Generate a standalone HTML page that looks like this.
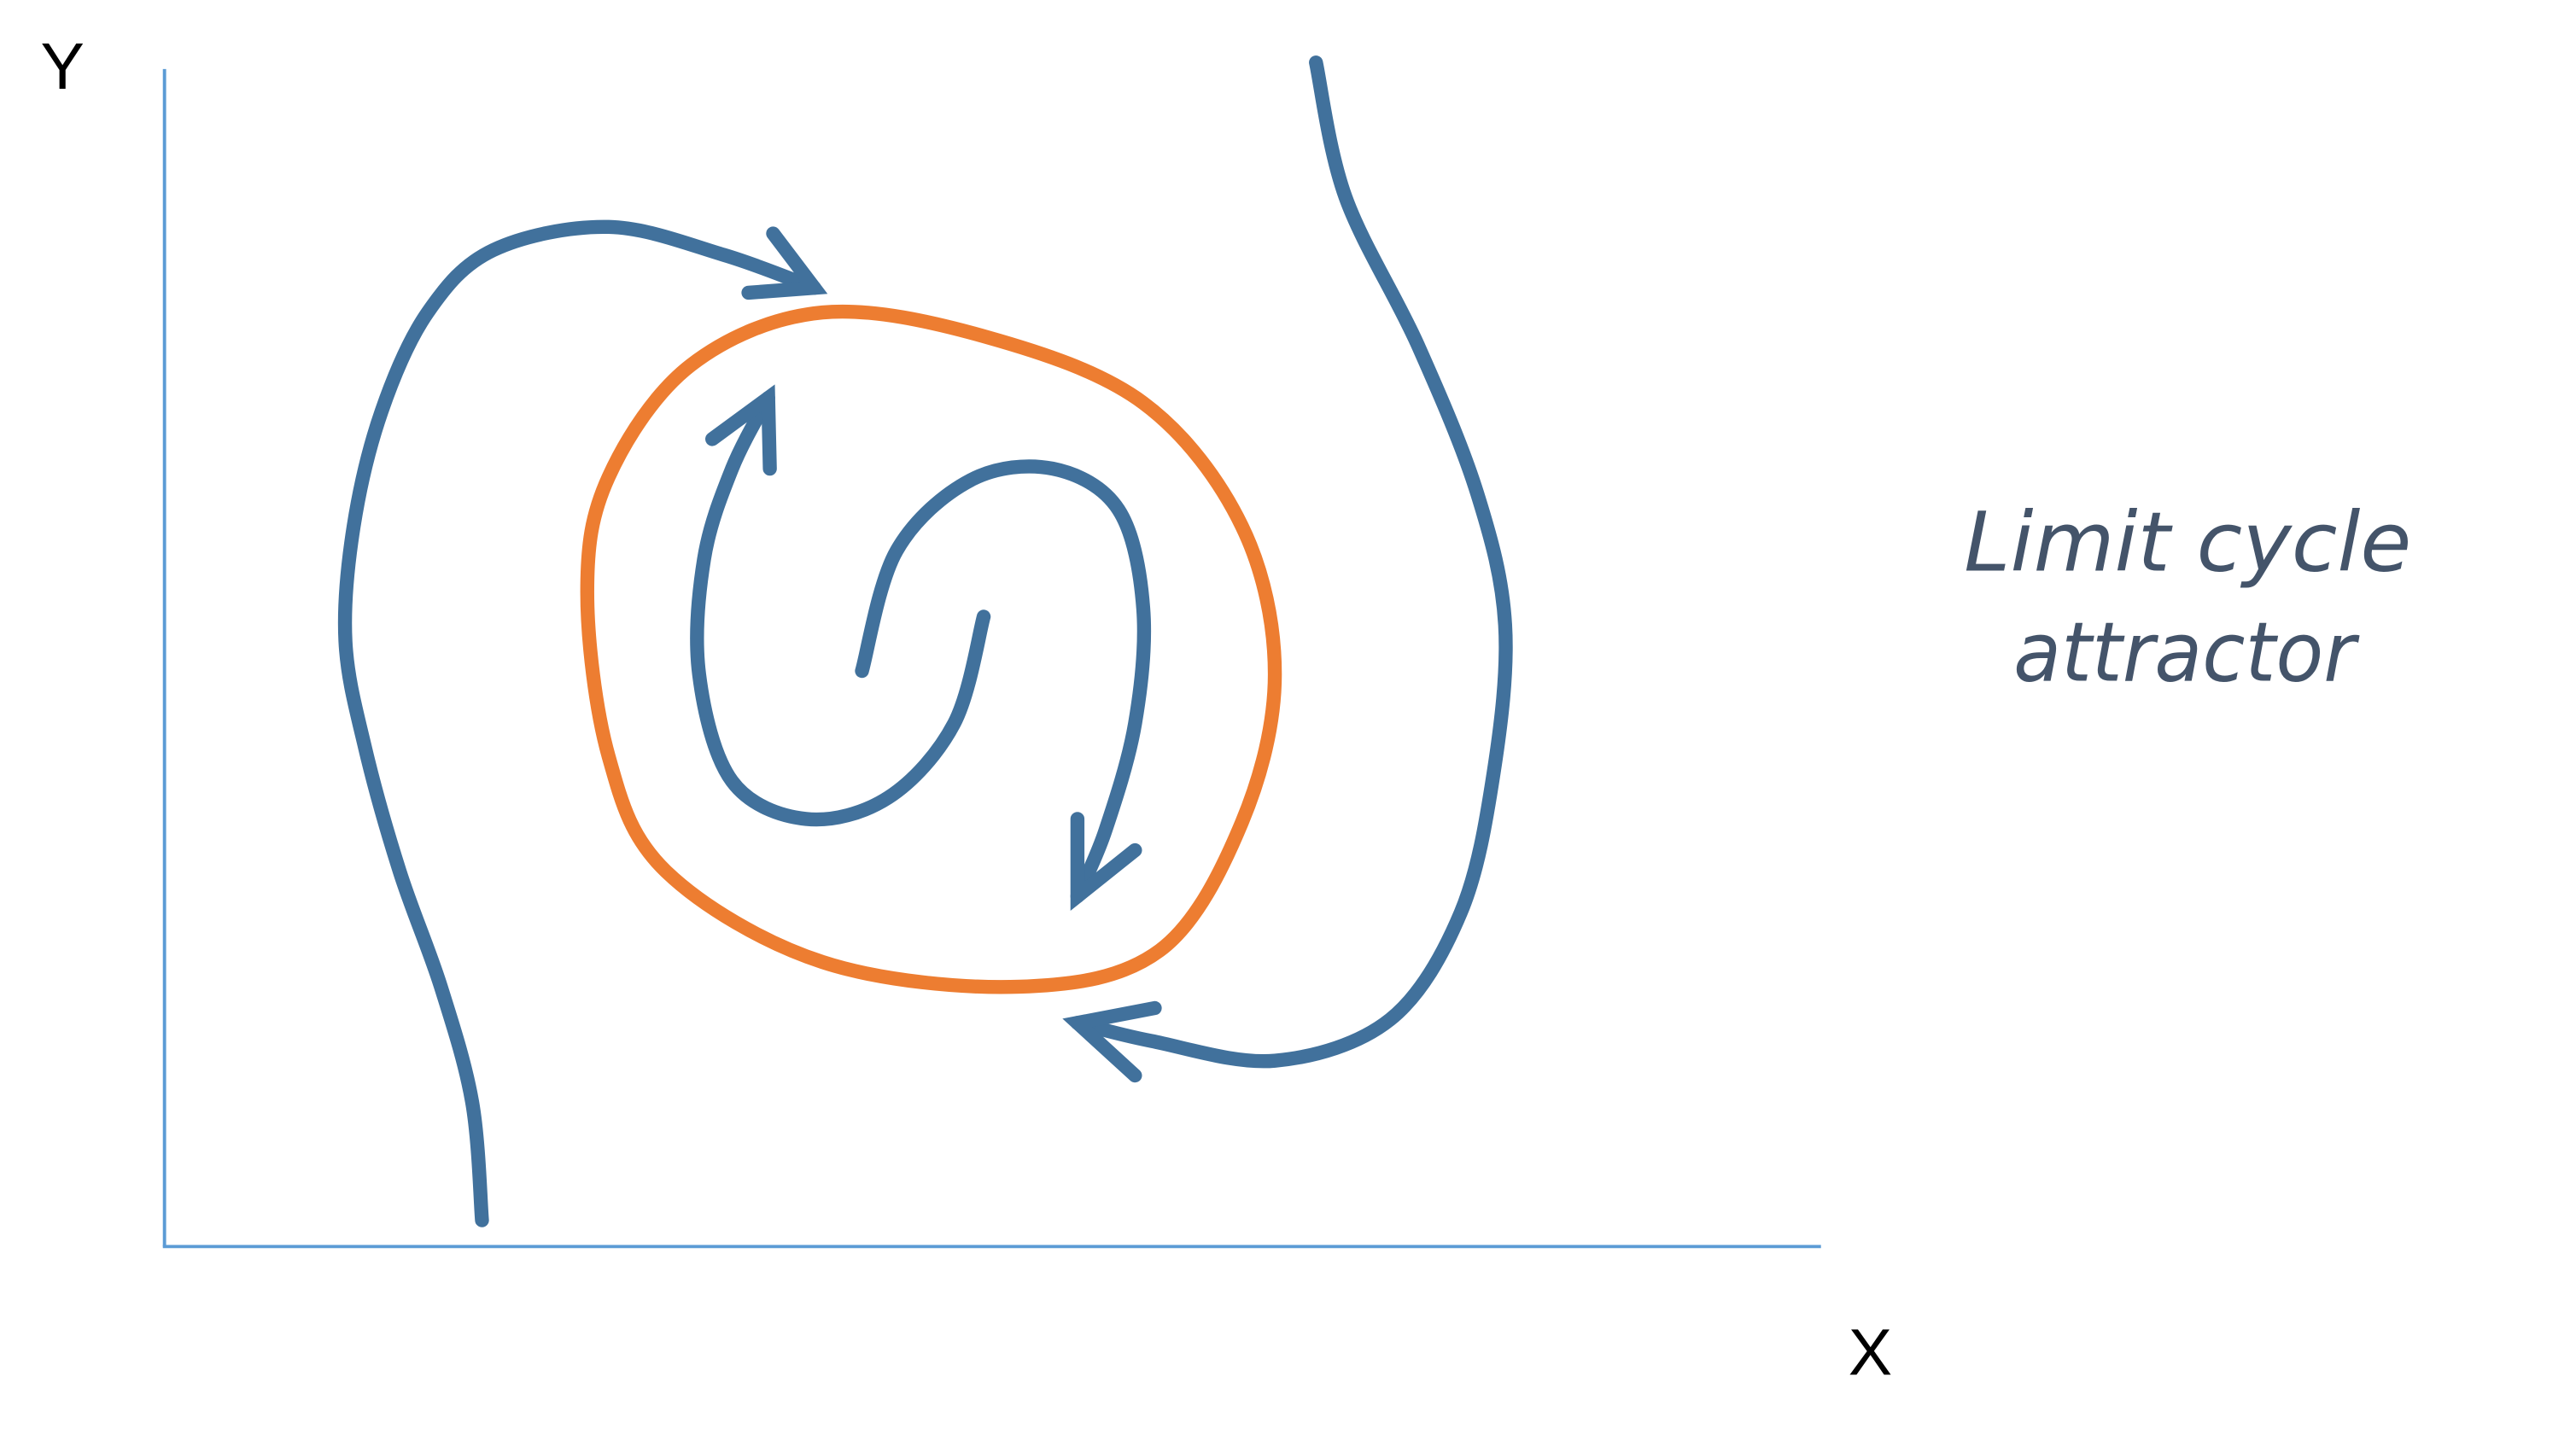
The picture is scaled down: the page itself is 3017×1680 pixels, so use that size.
<!DOCTYPE html>
<html><head><meta charset="utf-8"><style>
html,body{margin:0;padding:0;background:#fff;}
svg{display:block;}
</style></head><body>
<svg id="chart" width="3017" height="1680" viewBox="0 0 1566 872" preserveAspectRatio="none" xmlns="http://www.w3.org/2000/svg">
<line x1="100" y1="42" x2="100" y2="758" stroke="#5b9bd5" stroke-width="2"/>
<line x1="99" y1="758" x2="1107" y2="758" stroke="#5b9bd5" stroke-width="2"/>
<text x="38" y="54" font-family="Liberation Sans, sans-serif" font-size="40" text-anchor="middle" fill="#000">Y</text>
<text x="1137" y="836" font-family="Liberation Sans, sans-serif" font-size="40" text-anchor="middle" fill="#000">X</text>
<text x="1330" y="347" font-family="DejaVu Sans, sans-serif" font-style="italic" font-weight="300" font-size="50" text-anchor="middle" fill="#44546a" textLength="272" lengthAdjust="spacingAndGlyphs">Limit cycle</text>
<text x="1328" y="414" font-family="DejaVu Sans, sans-serif" font-style="italic" font-weight="300" font-size="50" text-anchor="middle" fill="#44546a" textLength="208" lengthAdjust="spacingAndGlyphs">attractor</text>
<g id="marks"></g>
</svg>
<script>
const leftTrajectory=[[293,742],[287,670],[268,600],[243,530],[222,455],[210,390],[215,320],[232,250],[260,190],[300,152],[370,138],[440,155],[495,175]];
const leftArrow=[[470,142],[495,175],[455,178]];
const limitCycle=[[500,190],[600,205],[695,245],[755,320],[775,410],[755,500],[705,578],[620,600],[500,585],[405,530],[370,460],[357,360],[370,290],[420,222]];
const innerSpiralA=[[598,375],[580,440],[540,485],[490,498],[445,475],[425,410],[428,340],[445,285],[467,242]];
const innerArrowA=[[433,267],[467,242],[468,285]];
const innerSpiralB=[[524,408],[545,335],[590,292],[640,285],[680,310],[695,370],[690,440],[672,505],[655,545]];
const innerArrowB=[[655,498],[655,545],[690,517]];
const rightTrajectory=[[800,38],[818,120],[862,210],[898,300],[915,380],[908,470],[888,555],[845,620],[775,645],[700,633],[655,622]];
const rightArrow=[[702,613],[655,622],[690,654]];
const NS='http://www.w3.org/2000/svg';
const g=document.getElementById('marks');
function smooth(p,closed){const n=p.length;const at=i=>closed?p[(i+n)%n]:p[Math.max(0,Math.min(n-1,i))];let d='M'+p[0][0]+','+p[0][1];const segs=closed?n:n-1;for(let i=0;i<segs;i++){const p0=at(i-1),p1=at(i),p2=at(i+1),p3=at(i+2);const c1=[p1[0]+(p2[0]-p0[0])/6,p1[1]+(p2[1]-p0[1])/6],c2=[p2[0]-(p3[0]-p1[0])/6,p2[1]-(p3[1]-p1[1])/6];d+=' C'+c1+' '+c2+' '+p2;}return d+(closed?'Z':'');}
function poly(p){return 'M'+p.map(q=>q.join(',')).join(' L');}
function add(d,color,name){const e=document.createElementNS(NS,'path');e.setAttribute('d',d);e.setAttribute('fill','none');e.setAttribute('stroke',color);e.setAttribute('stroke-width','8.5');e.setAttribute('stroke-linecap','round');e.setAttribute('stroke-linejoin','miter');


g.appendChild(e);}
const blue='#41719c',orange='#ed7d31';
add(smooth(limitCycle,true),orange,'limit-cycle-orbit');
add(smooth(leftTrajectory),blue,'left-trajectory');
add(poly(leftArrow),blue,'left-arrowhead');
add(smooth(innerSpiralA),blue,'inner-spiral-a');
add(poly(innerArrowA),blue,'inner-arrowhead-a');
add(smooth(innerSpiralB),blue,'inner-spiral-b');
add(poly(innerArrowB),blue,'inner-arrowhead-b');
add(smooth(rightTrajectory),blue,'right-trajectory');
add(poly(rightArrow),blue,'right-arrowhead');
</script>
</body></html>
